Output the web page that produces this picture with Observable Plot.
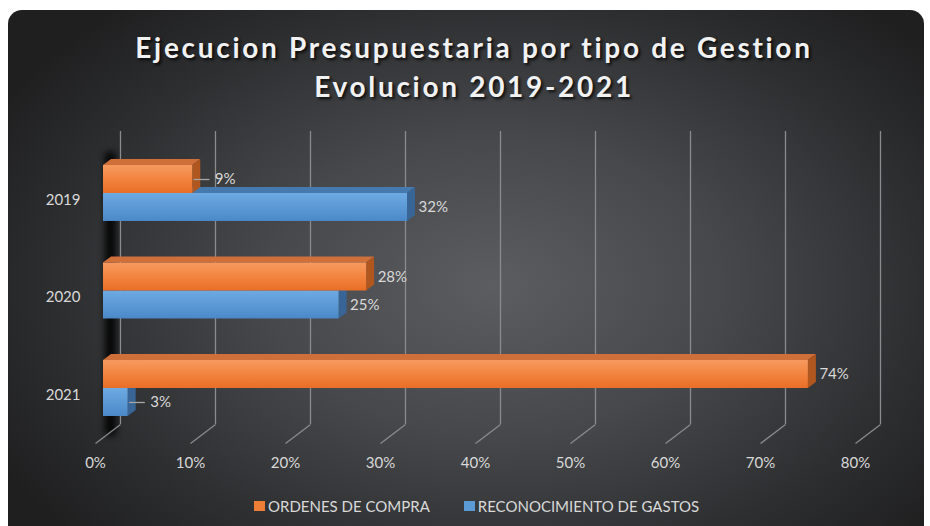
<!DOCTYPE html>
<html>
<head>
<meta charset="utf-8">
<script src="https://cdn.jsdelivr.net/npm/d3@7"></script>
<script src="https://cdn.jsdelivr.net/npm/@observablehq/plot@0.6"></script>
<style>
html,body{margin:0;padding:0;background:#ffffff;}
#wrap{position:relative;width:930px;height:526px;overflow:hidden;font-family:Lato,"Open Sans",sans-serif;}
#card{position:absolute;left:8px;top:10px;width:916px;height:530px;border-radius:14px;
  background:radial-gradient(ellipse 62% 70% at 53% 52%, #5b5d61 0%, #46484b 40%, #2e2f31 75%, #1f1f20 100%);}
#title{position:absolute;left:16px;width:916px;top:28px;text-align:center;color:#f2f2f2;font-weight:700;
  font-size:28px;line-height:39px;letter-spacing:2.7px;text-shadow:2px 2px 3px rgba(0,0,0,.8);}
#chart{position:absolute;left:0;top:0;}
#legend{position:absolute;top:497px;left:254px;display:flex;align-items:center;color:#d9d9d9;font-size:15px;}
.key{display:flex;align-items:center;}
.sw{width:11px;height:10px;margin-right:3px;}
</style>
</head>
<body>
<div id="wrap">
  <div id="card"></div>
  <div id="title">Ejecucion Presupuestaria por tipo de Gestion<br>Evolucion 2019-2021</div>
  <div id="chart"></div>
  <div id="legend"></div>
</div>
<script>
// ---- data ----
const years = ["2019", "2020", "2021"];
const seriesNames = ["ORDENES DE COMPRA", "RECONOCIMIENTO DE GASTOS"];
const ordenesCompra = [9.4, 27.7, 74.2];
const reconocimientoGastos = [32.0, 24.8, 2.6];
const xTicks = [0, 10, 20, 30, 40, 50, 60, 70, 80];

// ---- layout constants (in scale units) ----
const HALF = 0.287;        // bar thickness in row units
const BDX = 0.84, BDY = 0.0615;  // bar depth
const CEIL = -0.636, FLOOR = 2.369;
const WDX_BACK = 1.79, WDX_FRONT = -0.84, WDY = 0.195;
const WALL = "#010101";

const colors = {
  o: {front: "url(#gO)", top: "#cf6f3a", side: "#b0561f"},
  b: {front: "url(#gB)", top: "#4679ad", side: "#386595"}
};

// bars: blue drawn first, orange over it
const bars = [];
reconocimientoGastos.forEach((v, i) => bars.push({key: "b", id: "b" + i, v, yTop: i, yBot: i + HALF}));
ordenesCompra.forEach((v, i) => bars.push({key: "o", id: "o" + i, v, yTop: i - HALF, yBot: i}));

const marks = [];
// wall shadow
marks.push(Plot.ruleX([0], {y1: -0.42, y2: FLOOR + 0.12, stroke: WALL, strokeWidth: 11, strokeOpacity: 0.9, dx: 7}));
// back gridlines
marks.push(Plot.ruleX(xTicks, {x: d => d + WDX_BACK, y1: CEIL, y2: FLOOR, stroke: "#8a8b8d", strokeWidth: 1.3}));
// floor diagonals
marks.push(Plot.link(xTicks, {x1: d => d + WDX_BACK, x2: d => d + WDX_FRONT, y1: FLOOR, y2: FLOOR + WDY, stroke: "#8a8b8d", strokeWidth: 1.3}));

for (const k of ["b", "o"]) {
  const bs = bars.filter(b => b.key === k);
  const tops = bs.flatMap(b => [{id: b.id, y: b.yTop, x1: 0, x2: b.v}, {id: b.id, y: b.yTop - BDY, x1: BDX, x2: b.v + BDX}]);
  const sides = bs.flatMap(b => [{id: b.id, x: b.v, y1: b.yTop, y2: b.yBot}, {id: b.id, x: b.v + BDX, y1: b.yTop - BDY, y2: b.yBot - BDY}]);
  marks.push(Plot.areaX(tops, {y: "y", x1: "x1", x2: "x2", z: "id", fill: colors[k].top}));
  marks.push(Plot.areaY(sides, {x: "x", y1: "y1", y2: "y2", z: "id", fill: colors[k].side}));
  marks.push(Plot.rect(bs, {x1: 0, x2: "v", y1: "yTop", y2: "yBot", fill: colors[k].front}));
}

// data labels
const labels = bars.map(b => ({v: b.v, y: (b.yTop + b.yBot) / 2, text: Math.round(b.v) + "%"}));
const big = labels.filter(d => d.v >= 10), small = labels.filter(d => d.v < 10);
const txt = {fill: "#d9d9d9", fontSize: 15};
marks.push(Plot.text(big, {x: "v", y: "y", text: "text", dx: 11, textAnchor: "start", ...txt}));
marks.push(Plot.link(small, {x1: d => d.v + 0.1, x2: d => d.v + 1.75, y1: "y", y2: "y", stroke: "#a6a6a6", strokeWidth: 1.3}));
marks.push(Plot.text(small, {x: "v", y: "y", text: "text", dx: 22, textAnchor: "start", ...txt}));

// category labels
marks.push(Plot.text(years, {x: 0, y: (d, i) => i, text: d => d, dx: -23, dy: 6.5, textAnchor: "end", ...txt}));
// x tick labels
marks.push(Plot.text(xTicks, {x: d => d + WDX_FRONT, y: FLOOR + WDY, text: d => d + "%", dy: 20, ...txt}));

const svg = Plot.plot({
  width: 930, height: 526,
  x: {domain: [0, 80], range: [103, 863], axis: null},
  y: {domain: [0, 2], range: [193, 388], axis: null},
  style: {background: "transparent", fontFamily: "Lato, 'Open Sans', sans-serif", overflow: "visible"},
  marks
});

const defs = d3.select(svg).insert("defs", ":first-child");
const gO = defs.append("linearGradient").attr("id", "gO").attr("x1", 0).attr("y1", 0).attr("x2", 0).attr("y2", 1);
gO.append("stop").attr("offset", "0%").attr("stop-color", "#f79a60");
gO.append("stop").attr("offset", "50%").attr("stop-color", "#f2843f");
gO.append("stop").attr("offset", "100%").attr("stop-color", "#e96e27");
const gB = defs.append("linearGradient").attr("id", "gB").attr("x1", 0).attr("y1", 0).attr("x2", 0).attr("y2", 1);
gB.append("stop").attr("offset", "0%").attr("stop-color", "#6eaae2");
gB.append("stop").attr("offset", "50%").attr("stop-color", "#5c9ad6");
gB.append("stop").attr("offset", "100%").attr("stop-color", "#4a88c8");
defs.append("filter").attr("id", "wallBlur").attr("filterUnits", "userSpaceOnUse")
  .attr("x", 0).attr("y", 0).attr("width", 930).attr("height", 526)
  .append("feGaussianBlur").attr("stdDeviation", 3.5);
d3.select(svg).selectAll(`[stroke="${WALL}"]`).attr("filter", "url(#wallBlur)");

document.getElementById("chart").appendChild(svg);

// legend
const legendColors = ["#ee7d35", "#5b9bd5"];
const leg = d3.select("#legend");
seriesNames.forEach((s, i) => {
  const k = leg.append("div").attr("class", "key").style("margin-right", i === 0 ? "34px" : "0");
  k.append("div").attr("class", "sw").style("background", legendColors[i]);
  k.append("span").text(s);
});
</script>
</body>
</html>
